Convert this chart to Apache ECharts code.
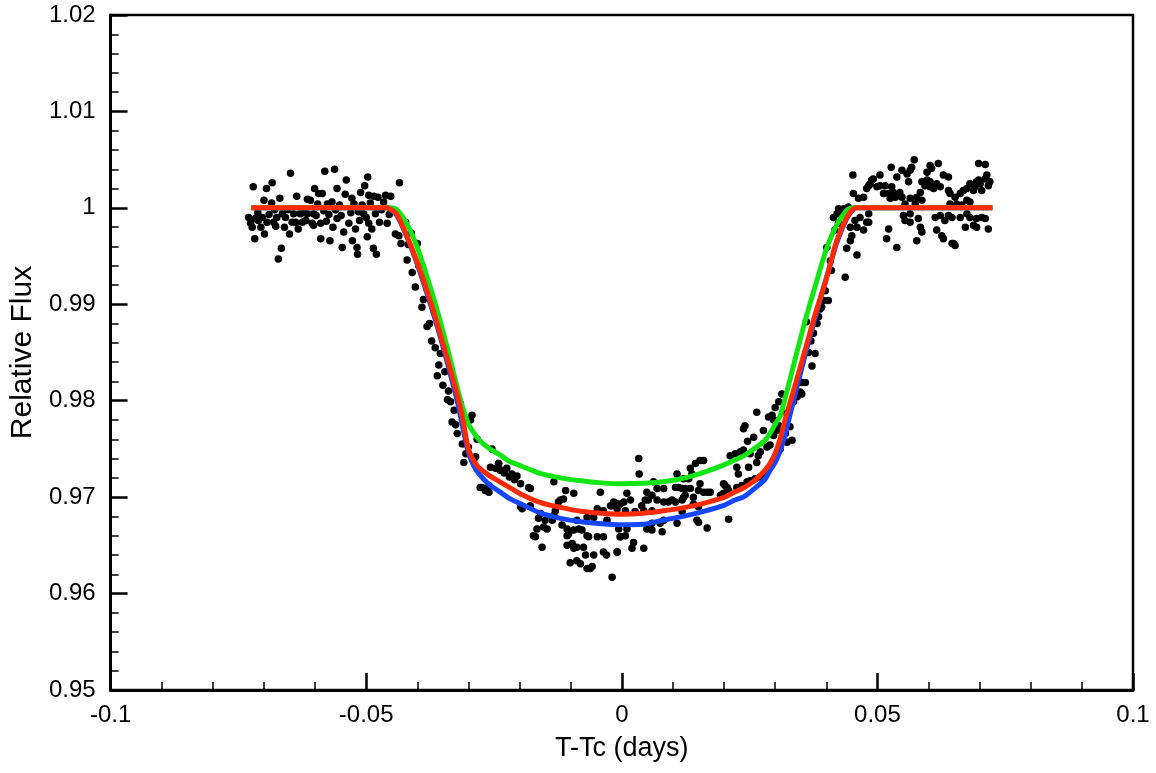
<!DOCTYPE html>
<html>
<head>
<meta charset="utf-8">
<script src="https://cdn.jsdelivr.net/npm/echarts@6/dist/echarts.min.js"></script>
<style>
html,body{margin:0;padding:0;background:#fff;}
#chart{width:1156px;height:773px;}
</style>
</head>
<body>
<div id="chart"></div>
<script>
// ---- observed photometry (T-Tc in days, relative flux) ----
var leftBase = [
[-0.0721,1.0022],[-0.0648,1.0036],[-0.0695,1.0020],[-0.0684,1.0026],[-0.0669,1.0010],[-0.0685,1.0005],[-0.0730,0.9990],[-0.0726,0.9984],[-0.0717,0.9989],[-0.0723,0.9980],[-0.0718,0.9968],[-0.0699,0.9973],[-0.0711,0.9987],[-0.0703,0.9990],[-0.0694,0.9985],[-0.0681,0.9985],[-0.0677,0.9981],[-0.0675,0.9990],[-0.0664,0.9994],[-0.0658,0.9990],[-0.0666,0.9958],[-0.0672,0.9947],[-0.0650,0.9973],[-0.0645,0.9985],[-0.0638,0.9985],[-0.0629,0.9994],[-0.0622,0.9995],[-0.0625,0.9985],[-0.0615,1.0009],[-0.0609,1.0008],[-0.0606,0.9984],[-0.0601,1.0020],[-0.0593,1.0015],[-0.0586,1.0015],[-0.0595,1.0004],[-0.0603,0.9982],[-0.0589,0.9984],[-0.0589,0.9968],[-0.0581,1.0038],[-0.0562,1.0040],[-0.0571,0.9966],[-0.0567,1.0006],[-0.0557,1.0020],[-0.0557,0.9989],[-0.0539,1.0029],[-0.0541,1.0014],[-0.0534,0.9984],[-0.0547,0.9959],[-0.0527,0.9966],[-0.0521,0.9978],[-0.0518,0.9959],[-0.0517,0.9952],[-0.0524,1.0004],[-0.0511,1.0016],[-0.0503,1.0023],[-0.0497,1.0032],[-0.0495,1.0013],[-0.0485,1.0012],[-0.0477,1.0011],[-0.0462,1.0013],[-0.0495,0.9984],[-0.0498,0.9970],[-0.0486,0.9958],[-0.0480,0.9952],[-0.0474,0.9985],[-0.0459,0.9984],[-0.0482,0.9994],[-0.0515,0.9996],[-0.0505,0.9994],[-0.0576,1.0004],[-0.0603,0.9994],[-0.0615,0.9994],[-0.0642,0.9994],
[-0.0712,0.9995],[-0.0706,0.9980],[-0.0690,0.9993],[-0.0679,0.9998],[-0.0660,0.9980],[-0.0654,0.9998],[-0.0633,0.9978],[-0.0618,0.9987],[-0.0598,0.9992],[-0.0583,0.9997],[-0.0578,0.9986],[-0.0573,0.9993],[-0.0565,0.9980],[-0.0560,0.9998],[-0.0552,1.0003],[-0.0549,0.9992],[-0.0544,0.9975],[-0.0530,0.9995],[-0.0528,1.0010],[-0.0513,0.9987],[-0.0508,1.0003],[-0.0500,0.9990],[-0.0492,1.0005],[-0.0489,0.9978],[-0.0470,0.9998],[-0.0466,1.0006],[-0.0455,0.9993],[-0.0452,1.0012],[-0.0636,1.0012],[-0.0700,1.0008],[-0.0435,1.0026]
];
var ingress = [
[-0.0443,0.9973],[-0.0436,0.9971],[-0.0423,0.9985],[-0.0412,0.9974],[-0.0432,0.9963],[-0.0400,0.9963],[-0.0420,0.9946],[-0.0410,0.9933],[-0.0384,0.9923],[-0.0404,0.9918],[-0.0381,0.9916],[-0.0391,0.9897],[-0.0368,0.9894],[-0.0361,0.9887],[-0.0381,0.9877],[-0.0355,0.9849],[-0.0358,0.9837],[-0.0361,0.9826],[-0.0350,0.9816],[-0.0341,0.9801],[-0.0335,0.9799],[-0.0316,0.9797],[-0.0332,0.9778],[-0.0322,0.9766],[-0.0293,0.9785],[-0.0296,0.9780],[-0.0283,0.9760],[-0.0309,0.9736],[-0.0286,0.9742],[-0.0277,0.9710],[-0.0267,0.9707],[-0.0260,0.9712],[-0.0257,0.9731],[-0.0247,0.9730],[-0.0241,0.9735],
[-0.0418,0.9962],[-0.0397,0.9940],[-0.0388,0.9905],[-0.0376,0.9880],[-0.0372,0.9862],[-0.0365,0.9855],[-0.0346,0.9830],[-0.0339,0.9810],[-0.0328,0.9790],[-0.0325,0.9775],[-0.0312,0.9755],[-0.0305,0.9745],[-0.0300,0.9752],[-0.0290,0.9738]
];
var bottomLeft = [
[-0.0273,0.9710],[-0.0264,0.9707],[-0.0260,0.9705],[-0.0254,0.9750],[-0.0241,0.9735],[-0.0235,0.9728],[-0.0230,0.9725],[-0.0225,0.9730],[-0.0220,0.9721],[-0.0215,0.9724],[-0.0210,0.9718],[-0.0205,0.9722],[-0.0238,0.9728],[-0.0198,0.9714],[-0.0182,0.9710],[-0.0179,0.9709],[-0.0195,0.9688],[-0.0198,0.9690],[-0.0179,0.9691],[-0.0163,0.9678],[-0.0159,0.9683],[-0.0166,0.9667],[-0.0169,0.9659],[-0.0173,0.9660],[-0.0153,0.9669],[-0.0146,0.9667],[-0.0150,0.9676],[-0.0156,0.9648],[-0.0136,0.9676],[-0.0133,0.9681],[-0.0130,0.9686],[-0.0124,0.9695],[-0.0120,0.9697],[-0.0114,0.9698],[-0.0133,0.9716],[-0.0110,0.9707],[-0.0094,0.9704],[-0.0117,0.9671],[-0.0107,0.9667],[-0.0104,0.9662],[-0.0107,0.9660],[-0.0107,0.9650],[-0.0097,0.9652],[-0.0094,0.9647],[-0.0088,0.9648],[-0.0075,0.9648],[-0.0101,0.9632],[-0.0088,0.9634],[-0.0081,0.9631],[-0.0068,0.9626],[-0.0062,0.9626],[-0.0058,0.9628],[-0.0084,0.9667],[-0.0078,0.9666],[-0.0068,0.9660],[-0.0065,0.9659],[-0.0048,0.9659],[-0.0036,0.9659],[-0.0055,0.9640],[-0.0036,0.9643],[-0.0030,0.9640],[-0.0071,0.9640],[-0.0042,0.9705],[-0.0048,0.9688],[-0.0036,0.9686],[-0.0029,0.9676],[-0.0022,0.9691],[-0.0016,0.9695],[-0.0009,0.9693],[-0.0019,0.9617],[-0.0009,0.9643],[-0.0003,0.9659],[-0.0068,0.9679],[-0.0055,0.9679],[-0.0088,0.9676],[-0.0094,0.9666]
];
var bottomRight = [
[0.0241,0.9774],[0.0238,0.9771],[0.0277,0.9769],[0.0258,0.9762],[0.0246,0.9758],[0.0297,0.9764],[0.0303,0.9769],[0.0307,0.9774],[0.0033,0.9740],[0.0034,0.9724],[0.0212,0.9743],[0.0222,0.9745],[0.0232,0.9747],[0.0238,0.9749],[0.0251,0.9745],[0.0267,0.9743],[0.0271,0.9747],[0.0284,0.9752],[0.0290,0.9754],[0.0310,0.9750],[0.0323,0.9757],[0.0264,0.9736],[0.0248,0.9731],[0.0228,0.9724],[0.0225,0.9731],[0.0160,0.9738],[0.0144,0.9735],[0.0134,0.9730],[0.0137,0.9724],[0.0131,0.9719],[0.0121,0.9719],[0.0108,0.9724],[0.0111,0.9710],[0.0118,0.9709],[0.0124,0.9709],[0.0134,0.9709],[0.0153,0.9714],[0.0150,0.9707],[0.0160,0.9705],[0.0167,0.9705],[0.0173,0.9705],[0.0140,0.9700],[0.0124,0.9702],[0.0062,0.9716],[0.0069,0.9709],[0.0082,0.9709],[0.0105,0.9710],[0.0049,0.9705],[0.0059,0.9702],[0.0046,0.9697],[0.0039,0.9691],[0.0052,0.9697],[0.0069,0.9697],[0.0082,0.9695],[0.0091,0.9695],[0.0098,0.9697],[0.0105,0.9695],[0.0118,0.9697],[0.0121,0.9700],[0.0010,0.9704],[0.0017,0.9697],[0.0004,0.9695],[-0.0003,0.9693],[-0.0013,0.9691],[-0.0019,0.9691],[-0.0009,0.9688],[0.0007,0.9686],[0.0026,0.9685],[0.0043,0.9686],[0.0059,0.9686],[0.0202,0.9712],[0.0209,0.9707],[0.0199,0.9704],[0.0193,0.9702],[0.0225,0.9710],[0.0235,0.9712],[0.0245,0.9716],[0.0251,0.9717],[0.0261,0.9719],[0.0271,0.9721],[0.0281,0.9723],[0.0140,0.9693],[0.0150,0.9690],[0.0118,0.9685],[0.0147,0.9676],[0.0150,0.9674],[0.0167,0.9668],[0.0108,0.9673],[0.0082,0.9676],[0.0075,0.9673],[0.0059,0.9673],[0.0049,0.9667],[0.0059,0.9666],[0.0079,0.9664],[-0.0006,0.9667],[0.0010,0.9667],[0.0007,0.9660],[-0.0003,0.9659],[0.0023,0.9653],[0.0020,0.9647],[-0.0009,0.9643],[0.0043,0.9647],[0.0209,0.9677],[0.0153,0.9738],[0.0206,0.9710],[0.0199,0.9714]
];
var egress = [
[0.0264,0.9788],[0.0287,0.9783],[0.0294,0.9785],[0.0297,0.9780],[0.0300,0.9793],[0.0307,0.9799],[0.0313,0.9807],[0.0323,0.9787],[0.0329,0.9773],[0.0333,0.9759],[0.0320,0.9766],[0.0336,0.9799],[0.0343,0.9804],[0.0349,0.9809],[0.0352,0.9819],[0.0359,0.9819],[0.0352,0.9807],[0.0378,0.9849],[0.0361,0.9882],[0.0382,0.9880],[0.0391,0.9897],[0.0388,0.9895],[0.0395,0.9904],[0.0404,0.9904],[0.0398,0.9914],[0.0401,0.9959],[0.0437,0.9928],[0.0440,0.9958],[0.0460,0.9951],[0.0417,0.9977],[0.0424,0.9984],[0.0414,0.9990],[0.0421,0.9994],[0.0430,0.9996],[0.0424,0.9999],[0.0447,0.9980],[0.0450,0.9971],[0.0447,0.9966],[0.0456,0.9987],[0.0460,0.9980],[0.0443,1.0001],[0.0434,0.9999],
[0.0365,0.9850],[0.0370,0.9862],[0.0375,0.9870],[0.0385,0.9887],[0.0410,0.9935],[0.0408,0.9945],[0.0372,0.9836]
];
var rightBase = [
[0.0452,1.0034],[0.0453,1.0015],[0.0463,1.0010],[0.0473,1.0011],[0.0473,0.9977],[0.0466,0.9990],[0.0483,0.9985],[0.0479,1.0020],[0.0486,1.0025],[0.0489,1.0029],[0.0492,1.0030],[0.0483,1.0023],[0.0499,1.0022],[0.0505,1.0023],[0.0505,1.0034],[0.0515,1.0023],[0.0512,1.0015],[0.0522,1.0015],[0.0528,1.0022],[0.0531,1.0016],[0.0525,1.0010],[0.0535,1.0011],[0.0527,1.0042],[0.0538,1.0032],[0.0548,1.0039],[0.0558,1.0035],[0.0564,1.0039],[0.0567,1.0042],[0.0561,1.0027],[0.0572,1.0050],[0.0544,1.0016],[0.0548,1.0011],[0.0564,1.0010],[0.0574,1.0008],[0.0577,1.0011],[0.0584,1.0016],[0.0522,0.9978],[0.0518,0.9968],[0.0538,0.9959],[0.0554,0.9987],[0.0564,0.9985],[0.0580,0.9989],[0.0584,0.9980],[0.0587,0.9975],[0.0577,0.9966],[0.0597,1.0037],[0.0603,1.0044],[0.0619,1.0046],[0.0606,1.0041],[0.0597,1.0029],[0.0593,1.0023],[0.0603,1.0022],[0.0610,1.0020],[0.0616,1.0025],[0.0623,1.0022],[0.0629,1.0034],[0.0639,1.0032],[0.0587,1.0027],[0.0603,1.0027],[0.0613,0.9990],[0.0623,0.9992],[0.0632,0.9987],[0.0639,0.9992],[0.0646,0.9990],[0.0616,0.9977],[0.0626,0.9971],[0.0629,0.9968],[0.0646,0.9963],[0.0652,0.9961],[0.0639,1.0018],[0.0642,1.0015],[0.0652,1.0011],[0.0662,1.0015],[0.0668,1.0018],[0.0675,1.0020],[0.0681,1.0025],[0.0694,1.0027],[0.0698,1.0029],[0.0688,1.0018],[0.0691,1.0022],[0.0701,1.0025],[0.0704,1.0018],[0.0711,1.0030],[0.0714,1.0034],[0.0720,1.0027],[0.0717,1.0023],[0.0698,1.0046],[0.0711,1.0045],[0.0642,1.0004],[0.0655,1.0004],[0.0665,1.0003],[0.0675,1.0008],[0.0681,1.0006],[0.0662,0.9990],[0.0675,0.9994],[0.0681,0.9990],[0.0694,0.9989],[0.0704,0.9990],[0.0672,0.9980],[0.0688,0.9982],[0.0694,0.9980],[0.0711,0.9989],[0.0717,0.9978],[0.0649,0.9963],[0.0554,1.0004],[0.0574,1.0004],[0.0587,1.0008],[0.0551,0.9992],[0.0564,0.9994],[0.0479,0.9985],[0.0483,0.9994]
];

// ---- transit model curves ----
var modelX = [-0.0725,-0.046,-0.0452,-0.044,-0.042,-0.040,-0.038,-0.036,-0.034,-0.032,-0.031,-0.030,-0.029,-0.028,-0.026,-0.024,-0.022,-0.020,-0.016,-0.012,-0.008,-0.004,0,0.004,0.008,0.012,0.016,0.020,0.022,0.024,0.026,0.028,0.029,0.030,0.031,0.032,0.034,0.036,0.038,0.040,0.042,0.044,0.0452,0.046,0.0725];
var modelBlue = [1,1,0.99979,0.99922,0.99694,0.99414,0.99093,0.98750,0.98367,0.97952,0.97693,0.97465,0.97330,0.97247,0.97133,0.97060,0.96987,0.96936,0.96837,0.96780,0.96744,0.96723,0.96713,0.96718,0.96760,0.96801,0.96853,0.96915,0.96967,0.97008,0.97091,0.97185,0.97278,0.97361,0.97485,0.97662,0.98087,0.98501,0.98896,0.99269,0.99632,0.99891,0.99979,1,1];
var modelGreen = [1,1,1,0.99979,0.99829,0.99590,0.99269,0.98916,0.98522,0.98097,0.97910,0.97755,0.97672,0.97599,0.97506,0.97444,0.97371,0.97330,0.97247,0.97200,0.97169,0.97148,0.97138,0.97143,0.97159,0.97195,0.97257,0.97335,0.97382,0.97433,0.97506,0.97589,0.97662,0.97755,0.97848,0.98035,0.98450,0.98854,0.99217,0.99570,0.99819,0.99974,1,1,1];
var modelRed = [1,1,0.99984,0.99933,0.99704,0.99435,0.99124,0.98781,0.98408,0.98024,0.97776,0.97500,0.97380,0.97310,0.97226,0.97164,0.97102,0.97039,0.96946,0.96894,0.96853,0.96832,0.96822,0.96832,0.96858,0.96889,0.96936,0.96998,0.97050,0.97102,0.97174,0.97278,0.97350,0.97454,0.97610,0.97817,0.98180,0.98553,0.98927,0.99259,0.99653,0.99901,0.99984,1,1];

var observed = leftBase.concat(ingress, bottomLeft, bottomRight, egress, rightBase);
function pairs(xs, ys){ return xs.map(function(x,i){ return [x, ys[i]]; }); }

var chart = echarts.init(document.getElementById('chart'), null, {renderer:'canvas'});
var font = '"Liberation Sans", Arial, Helvetica, sans-serif';
chart.setOption({
  animation: false,
  backgroundColor: '#ffffff',
  grid: {left:110, right:23, top:15, bottom:83, show:true, borderColor:'#000', borderWidth:2.5, backgroundColor:'transparent'},
  xAxis: {
    type:'value', min:-0.1, max:0.1, interval:0.05,
    name:'T-Tc (days)', nameLocation:'middle', nameGap:45,
    nameTextStyle:{fontFamily:font, fontSize:27, color:'#000'},
    axisLine:{show:true, onZero:false, lineStyle:{color:'#000', width:3}},
    axisTick:{show:true, inside:true, length:17, lineStyle:{color:'#000', width:2.5}},
    minorTick:{show:true, splitNumber:5, length:8, lineStyle:{color:'#000', width:1.5}},
    axisLabel:{fontFamily:font, fontSize:24, color:'#000', margin:13},
    splitLine:{show:false}
  },
  yAxis: {
    type:'value', min:0.95, max:1.02, interval:0.01,
    name:'Relative Flux', nameLocation:'middle', nameGap:69,
    nameTextStyle:{fontFamily:font, fontSize:30, color:'#000'},
    axisLine:{show:true, onZero:false, lineStyle:{color:'#000', width:3}},
    axisTick:{show:true, inside:true, length:17, lineStyle:{color:'#000', width:2.5}},
    minorTick:{show:true, splitNumber:5, length:8, lineStyle:{color:'#000', width:1.5}},
    axisLabel:{fontFamily:font, fontSize:24, color:'#000', margin:15},
    splitLine:{show:false}
  },
  series: [
    {type:'scatter', data:observed, symbol:'circle', symbolSize:7.5, itemStyle:{color:'#000', opacity:1}, z:2},
    {type:'line', data:pairs(modelX, modelBlue), showSymbol:false, smooth:0.25, lineStyle:{color:'#1446ff', width:5}, z:3},
    {type:'line', data:pairs(modelX, modelGreen), showSymbol:false, smooth:0.25, lineStyle:{color:'#14e614', width:5}, z:4},
    {type:'line', data:pairs(modelX, modelRed), showSymbol:false, smooth:0.25, lineStyle:{color:'#ff2a00', width:5}, z:5}
  ]
});
</script>
</body>
</html>
